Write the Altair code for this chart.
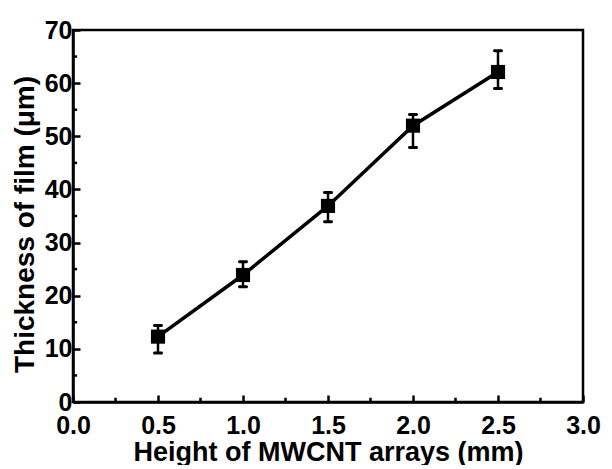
import altair as alt
import pandas as pd

heights = [0.5, 1.0, 1.5, 2.0, 2.5]
thickness = [12.3, 23.9, 36.9, 52.0, 62.1]
err_low = [9.2, 21.7, 33.9, 47.9, 59.0]
err_high = [14.4, 26.4, 39.4, 54.1, 66.1]

x_major = [0.0, 0.5, 1.0, 1.5, 2.0, 2.5, 3.0]
x_minor = [0.25, 0.75, 1.25, 1.75, 2.25, 2.75]
y_major = [0, 10, 20, 30, 40, 50, 60, 70]
y_minor = [5, 15, 25, 35, 45, 55, 65]

FONT = "Liberation Sans"

df = pd.DataFrame({"h": heights, "t": thickness, "lo": err_low, "hi": err_high})
dfx = pd.DataFrame({"x": x_minor})
dfy = pd.DataFrame({"y": y_minor})

xs = alt.Scale(domain=[0, 3], nice=False)
ys = alt.Scale(domain=[0, 70], nice=False)

xaxis = alt.Axis(values=x_major, format=".1f", tickSize={"expr": "-7"}, tickWidth=2.5,
                 tickColor="black", domainColor="black", domainWidth=2.5,
                 labelFont=FONT, labelFontSize=25, labelFontWeight="bold", labelColor="black",
                 labelPadding=18, labelFlush=False, labelOverlap=False,
                 title="Height of MWCNT arrays (mm)", titleFont=FONT,
                 titleFontSize=27, titleFontWeight="bold", titleColor="black",
                 titlePadding=1, grid=False)
yaxis = alt.Axis(values=y_major, tickSize={"expr": "-7"}, tickWidth=2.5,
                 tickColor="black", domainColor="black", domainWidth=2.5,
                 labelFont=FONT, labelFontSize=25, labelFontWeight="bold", labelColor="black",
                 labelPadding=8, labelFlush=False, labelOverlap=False,
                 title="Thickness of  film (μm)", titleFont=FONT,
                 titleFontSize=28, titleFontWeight="bold", titleColor="black",
                 titlePadding=5, titleY=194, grid=False)

base = alt.Chart(df)

line = base.mark_line(color="black", strokeWidth=3.5).encode(
    x=alt.X("h:Q", scale=xs, axis=xaxis),
    y=alt.Y("t:Q", scale=ys, axis=yaxis),
)
bars = base.mark_rule(color="black", strokeWidth=2.5).encode(
    x="h:Q", y="lo:Q", y2="hi:Q"
)
cap_lo = base.mark_tick(color="black", orient="horizontal", size=10, thickness=3,
                        cornerRadius=1.5, opacity=1).encode(x="h:Q", y="lo:Q")
cap_hi = base.mark_tick(color="black", orient="horizontal", size=10, thickness=3,
                        cornerRadius=1.5, opacity=1).encode(x="h:Q", y="hi:Q")
squares = base.mark_square(color="black", opacity=1, size=200).encode(x="h:Q", y="t:Q")

minor_x = alt.Chart(dfx).mark_rule(color="black", strokeWidth=2.5).encode(
    x="x:Q", y=alt.datum(0), y2=alt.datum(0.8)
)
minor_y = alt.Chart(dfy).mark_rule(color="black", strokeWidth=2.5).encode(
    y="y:Q", x=alt.datum(0), x2=alt.datum(0.024)
)

chart = alt.layer(line, bars, cap_lo, cap_hi, squares, minor_x, minor_y).properties(
    width=510, height=372, background="white",
    padding={"left": 3, "top": 10, "right": 0, "bottom": 0},
).configure_view(stroke="black", strokeWidth=2.5)

chart.save("out.html", embed_options={"renderer": "svg", "actions": False})
